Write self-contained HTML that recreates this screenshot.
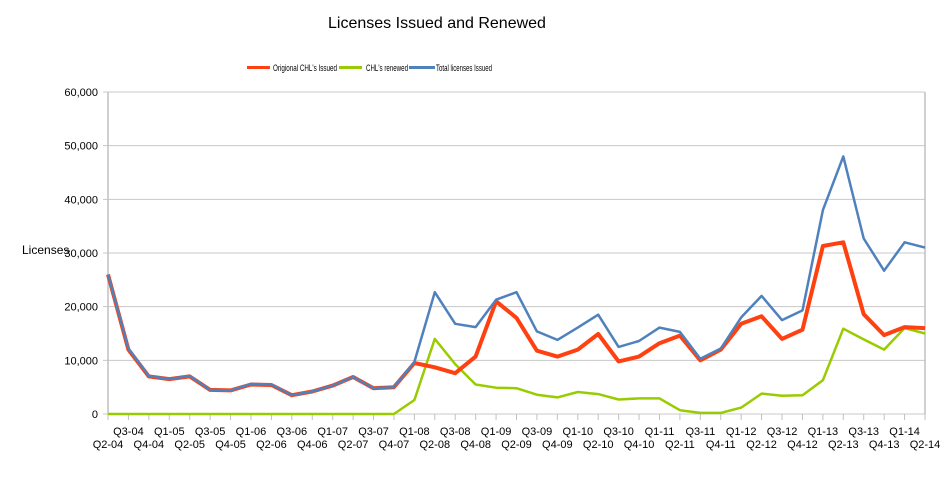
<!DOCTYPE html>
<html><head><meta charset="utf-8"><style>
body{margin:0;background:#fff;}
svg{display:block;font-family:"Liberation Sans",sans-serif;}
</style></head><body>
<svg id="c" width="948" height="483" xmlns="http://www.w3.org/2000/svg">
<rect width="948" height="483" fill="#fff"/>
<text x="437" y="28" font-size="16" text-anchor="middle" fill="#000">Licenses Issued and Renewed</text>
<g font-size="9" fill="#000">
<rect x="247" y="66" width="23" height="3" fill="#ff4010"/>
<text x="273" y="71" textLength="64" lengthAdjust="spacingAndGlyphs">Origional CHL's Issued</text>
<rect x="339" y="66" width="23" height="3" fill="#99cc00"/>
<text x="366" y="71" textLength="42" lengthAdjust="spacingAndGlyphs">CHL's renewed</text>
<rect x="409" y="66" width="26" height="3" fill="#4f81bd"/>
<text x="436" y="71" textLength="56" lengthAdjust="spacingAndGlyphs">Total licenses Issued</text>
</g>
<text x="22" y="254" font-size="12">Licenses</text>
<g id="grid"></g>
<g id="lines"></g>
</svg>
<script>
const NS="http://www.w3.org/2000/svg";
const g=document.getElementById('grid'), L=document.getElementById('lines');
function el(t,a,p,txt){const e=document.createElementNS(NS,t);for(const k in a)e.setAttribute(k,a[k]);if(txt!=null)e.textContent=txt;(p||g).appendChild(e);return e;}
const x0=108,x1=925,y0=414,y60=92;
const X=i=>x0+(x1-x0)*i/40, Y=v=>y0-(y0-y60)*v/60000;
for(let k=0;k<=6;k++){const y=Y(k*10000);
 el('line',{x1:x0-5,x2:x1,y1:y,y2:y,stroke:'#c8c8c8','stroke-width':1});
 el('text',{x:98,y:y+4,'font-size':11,'text-anchor':'end'},g,k==0?'0':(k*10)+',000');}
el('line',{x1:x0,x2:x0,y1:y60,y2:y0,stroke:'#c0c0c0','stroke-width':1.5});
el('line',{x1:x1,x2:x1,y1:y60,y2:y0,stroke:'#c0c0c0','stroke-width':1.5});
const labs=[];const qs=['Q1','Q2','Q3','Q4'];
for(let i=0;i<=40;i++){const q=(1+i)%4, yr=4+Math.floor((i+1)/4);labs.push(qs[q]+'-'+String(yr).padStart(2,'0'));}
for(let i=0;i<=40;i++){const x=X(i);
 el('line',{x1:x,x2:x,y1:y0,y2:y0+6,stroke:'#c0c0c0','stroke-width':1});
 el('text',{x:x,y:i%2?435:448,'font-size':11,'text-anchor':'middle'},g,labs[i]);}
const tot=[26000,12200,7100,6500,7100,4500,4400,5600,5500,3500,4200,5300,6900,4800,5000,9700,22700,16800,16200,21300,22700,15400,13800,16100,18500,12500,13600,16100,15300,10300,12200,18000,22000,17500,19300,38000,48000,32700,26700,32000,31000];
const org=[26000,12000,7000,6500,7000,4500,4400,5500,5400,3500,4200,5300,6900,4800,5000,9500,8700,7600,10700,21000,17900,11800,10700,12000,14900,9800,10700,13200,14600,10000,12000,16800,18200,14000,15700,31300,32000,18600,14700,16200,16000];
const grn=[0,0,0,0,0,0,0,0,0,0,0,0,0,0,0,2600,14000,9300,5500,4900,4800,3600,3100,4100,3700,2700,2900,2900,700,200,200,1200,3800,3400,3500,6300,15900,13900,12000,16000,15000];
function pl(d,c,w){el('polyline',{points:d.map((v,i)=>X(i).toFixed(1)+','+Y(v).toFixed(1)).join(' '),fill:'none',stroke:c,'stroke-width':w,'stroke-linejoin':'round'},L);}
pl(grn,'#99cc00',2.5);pl(org,'#ff4010',4);pl(tot,'#4f81bd',2.5);
</script>
</body></html>
